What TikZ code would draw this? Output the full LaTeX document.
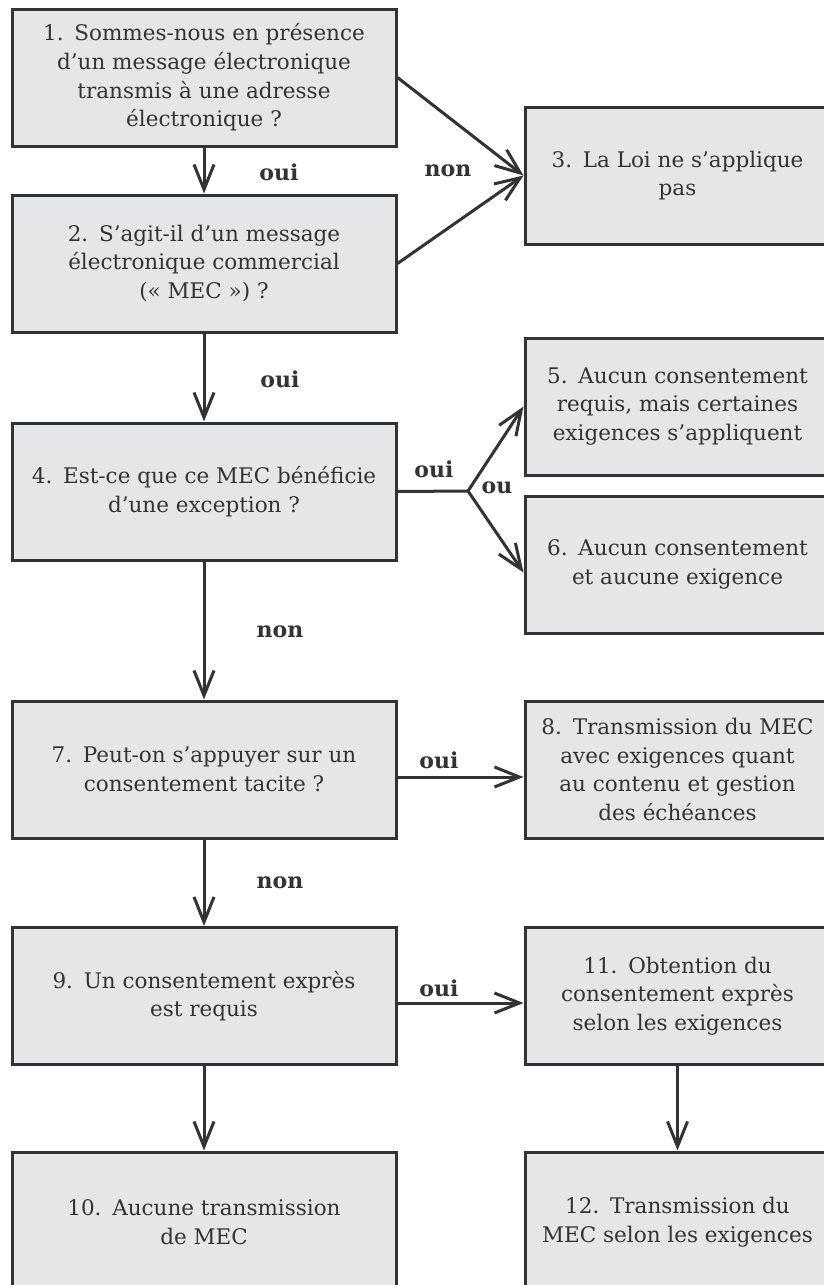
\documentclass[tikz,border=0pt]{standalone}
\usepackage{fontspec}
\setmainfont{DejaVu Serif}
\usetikzlibrary{arrows.meta}
\definecolor{ink}{HTML}{333333}
\definecolor{boxfill}{HTML}{E5E6E8}
\begin{document}
\begin{tikzpicture}[x=1pt,y=-1pt,
  box/.style={draw=ink, fill=boxfill, line width=3pt, minimum width=384pt,
    minimum height=137pt, align=center, text=ink, inner sep=0pt,
    font=\fontsize{21.5}{28.7}\selectfont},
  rbox/.style={box, minimum width=305pt},
  conn/.style={draw=ink, line width=3pt, -{Straight Barb[length=25pt,width=20pt]}},
  plain/.style={draw=ink, line width=3pt},
  lbl/.style={font=\fontsize{22}{26}\selectfont\bfseries, text=ink, inner sep=0pt}]
\useasboundingbox (0,0) rectangle (824,1285);
\clip (0,0) rectangle (824,1285);
\fill[white] (0,0) rectangle (824,1285);

\node[box] (b1) at (204,77.5) {1.\enspace Sommes-nous en présence\\d’un message électronique\\transmis à une adresse\\électronique ?};
\node[box] (b2) at (204,263.5) {2.\enspace S’agit-il d’un message\\électronique commercial\\(«~MEC~»)~?};
\node[rbox] (b3) at (677.5,175.5) {3.\enspace La Loi ne s’applique\\pas};
\node[box] (b4) at (204,491.5) {4.\enspace Est-ce que ce MEC bénéficie\\d’une exception ?};
\node[rbox] (b5) at (677.5,406.5) {5.\enspace Aucun consentement\\requis, mais certaines\\exigences s’appliquent};
\node[rbox] (b6) at (677.5,564.5) {6.\enspace Aucun consentement\\et aucune exigence};
\node[box] (b7) at (204,769.5) {7.\enspace Peut-on s’appuyer sur un\\consentement tacite ?};
\node[rbox] (b8) at (677.5,769.5) {8.\enspace Transmission du MEC\\avec exigences quant\\au contenu et gestion\\des échéances};
\node[box] (b9) at (204,996) {9.\enspace Un consentement exprès\\est requis};
\node[rbox] (b11) at (677.5,996) {11.\enspace Obtention du\\consentement exprès\\selon les exigences};
\node[box, minimum height=140pt] (b10) at (204,1222) {10.\enspace Aucune transmission\\de MEC};
\node[rbox, minimum height=140pt] (b12) at (677.5,1222) {12.\enspace Transmission du\\MEC selon les exigences};

\coordinate (j) at (468,491);

\draw[conn] (b1) -- (b2);
\draw[conn] (b1.east) -- (b3.west);
\draw[conn] (b2.east) -- (b3.west);
\draw[conn] (b2) -- (b4);
\draw[plain] (b4.east) -- (j);
\draw[conn] (j) -- (b5.west);
\draw[conn] (j) -- ([yshift=-8pt]b6.west);
\draw[conn] (b4) -- (b7);
\draw[conn] ([yshift=-7.5pt]b7.east) -- ([yshift=-7.5pt]b8.west);
\draw[conn] (b7) -- (b9);
\draw[conn] ([yshift=-7pt]b9.east) -- ([yshift=-7pt]b11.west);
\draw[conn] (b9) -- (b10);
\draw[conn] (b11) -- (b12);

\node[lbl] (l12) at (279,172) {oui};
\node[lbl] (l13) at (448,171) {non};
\node[lbl] (l24) at (280,379) {oui};
\node[lbl] (l4a) at (434,469) {oui};
\node[lbl] (l4b) at (497,488) {ou};
\node[lbl] (l47) at (280,632) {non};
\node[lbl] (l78) at (439,760) {oui};
\node[lbl] (l79) at (280,883) {non};
\node[lbl] (l911) at (439,988) {oui};
\end{tikzpicture}
\end{document}
